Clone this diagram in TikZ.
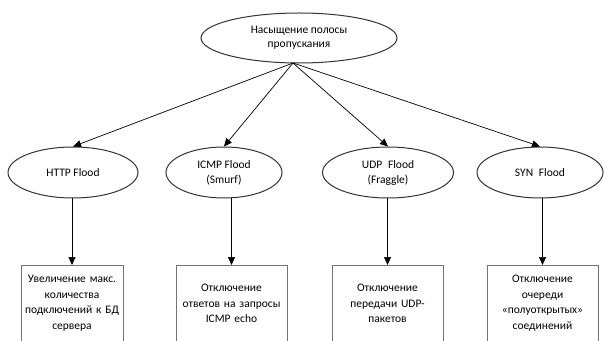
\documentclass[tikz,border=0pt]{standalone}
\usepackage{fontspec}
\setmainfont{Carlito}
\usepackage{tikz}
\usetikzlibrary{arrows.meta, positioning, shapes.geometric}
\tikzset{
  % DoS tree styles
  dos-root/.style={ellipse, draw=black!80, line width=1pt, fill=white, minimum width=196pt, minimum height=50pt, inner sep=0pt, align=center, font=\fontsize{11.5}{14}\selectfont},
  dos-attack/.style={ellipse, draw=black!80, line width=1pt, fill=white, minimum height=51pt, inner sep=0pt, align=center, font=\fontsize{11.5}{15}\selectfont},
  dos-measure/.style={rectangle, draw=black!55, line width=0.8pt, fill=white, minimum height=76pt, text width=108pt, inner sep=0pt, align=center, anchor=north, font=\fontsize{11.5}{15.5}\selectfont},
  dos-arrow/.style={-{Triangle[length=8pt, width=7pt]}, line width=0.7pt, black}
}
\begin{document}
\begin{tikzpicture}[x=1pt, y=1pt]
    \useasboundingbox[fill=white] (0,0) rectangle (604,340);
    % --- Root ---
    \node[dos-root] (root) at (299, 302) {Насыщение полосы\\пропускания};
    \coordinate (fork) at (293, 277);

    % --- Attack types ---
    \node[dos-attack, minimum width=130pt] (http) at (73, 167.5) {HTTP Flood};
    \node[dos-attack, minimum width=116pt] (icmp) at (224, 167.5) {ICMP Flood\\(Smurf)};
    \node[dos-attack, minimum width=131pt] (udp) at (388, 167.5) {UDP\enspace Flood\\(Fraggle)};
    \node[dos-attack, minimum width=126pt] (syn) at (540, 167.5) {SYN\enspace Flood};

    \draw[dos-arrow] (fork) -- (http.north);
    \draw[dos-arrow] (fork) -- (icmp.north);
    \draw[dos-arrow] (fork) -- (udp.north);
    \draw[dos-arrow] (fork) -- (syn.north);

    % --- Countermeasures ---
    \node[dos-measure, text width=102pt] (httpbox) at (72, 75) {Увеличение макс.\\количества\\подключений к БД\\сервера};
    \node[dos-measure, text width=111pt] (icmpbox) at (231.5, 75) {Отключение\\ответов на запросы\\ICMP echo};
    \node[dos-measure, text width=111pt] (udpbox) at (387.5, 75) {Отключение\\передачи UDP-\\пакетов};
    \node[dos-measure, text width=111pt] (synbox) at (542.5, 75) {Отключение\\очереди\\«полуоткрытых»\\соединений};

    \draw[dos-arrow] (http.south -| httpbox.north) -- (httpbox.north);
    \draw[dos-arrow] (icmp.south -| icmpbox.north) -- (icmpbox.north);
    \draw[dos-arrow] (udp.south -| udpbox.north) -- (udpbox.north);
    \draw[dos-arrow] (syn.south -| synbox.north) -- (synbox.north);
\end{tikzpicture}
\end{document}
